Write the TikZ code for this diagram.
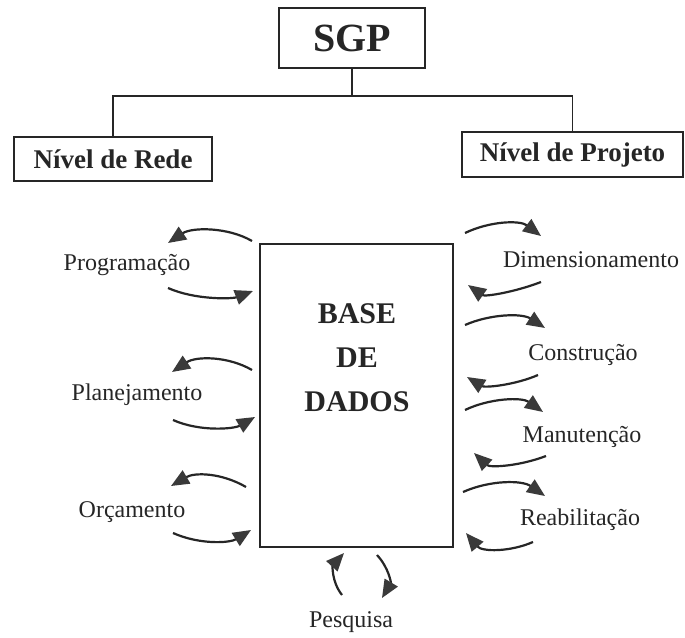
\documentclass[tikz,border=0pt]{standalone}
\usepackage{fontspec}
\setmainfont{Liberation Serif}
\usetikzlibrary{arrows.meta}
\definecolor{ink}{HTML}{262626}
\definecolor{tipc}{HTML}{3A3A3A}
\begin{document}
\begin{tikzpicture}[x=1pt,y=-1pt,
  box/.style={draw=ink, line width=1.8pt, inner sep=0pt, text=ink},
  lbl/.style={text=ink, font=\fontsize{24}{28}\selectfont, inner sep=0pt},
  head/.style={text=ink, font=\fontsize{27}{32}\selectfont\bfseries},
  flow/.style={draw=ink, line width=2.2pt, arrows={-Triangle[length=18pt 0,width=15pt 0,color=tipc]}},
  tree/.style={draw=ink, line width=1.6pt}]
\useasboundingbox (0,0) rectangle (685,637);
\fill[white] (0,0) rectangle (685,637);
% boxes
\node[box, minimum width=146pt, minimum height=60pt, font=\fontsize{40}{48}\selectfont\bfseries] (sgp) at (352,38) {SGP};
\node[box, head, minimum width=198pt, minimum height=44pt] (rede) at (113,159) {Nível de Rede};
\node[box, head, minimum width=221pt, minimum height=45pt] (proj) at (572.5,154.5) {Nível de Projeto};
\node[box, minimum width=193pt, minimum height=303pt] (base) at (356.5,395.5) {};
\node[text=ink, align=center, font=\fontsize{30}{44}\selectfont\bfseries, inner sep=0pt] (bt) at (357,358) {BASE\\DE\\DADOS};
% tree
\coordinate (j) at (352,97);
\draw[tree] (sgp.south) -- (j);
\draw[tree] (rede.north) -- ++(0,-40) -| (proj.north);
% labels
\node[lbl] (prog) at (127,265) {Programação};
\node[lbl] (plan) at (137,395) {Planejamento};
\node[lbl] (orc) at (132,512) {Orçamento};
\node[lbl] (dim) at (591,260) {Dimensionamento};
\node[lbl] (cons) at (583,355) {Construção};
\node[lbl] (man) at (582,437) {Manutenção};
\node[lbl] (reab) at (580,520) {Reabilitação};
\node[lbl] (pesq) at (351,622) {Pesquisa};
% left arrows
\coordinate (po1) at (252,241); \coordinate (po2) at (168,243);
\coordinate (pi1) at (168,288); \coordinate (pi2) at (253,291);
\coordinate (lo1) at (252,370); \coordinate (lo2) at (172,372);
\coordinate (li1) at (173,420); \coordinate (li2) at (255,417);
\coordinate (oo1) at (246,487); \coordinate (oo2) at (171,486);
\coordinate (oi1) at (173,533); \coordinate (oi2) at (251,530);
\draw[flow] (po1) .. controls (228,227) and (192,227) .. (po2);
\draw[flow] (pi1) .. controls (195,300) and (232,299) .. (pi2);
\draw[flow] (lo1) .. controls (228,356) and (196,356) .. (lo2);
\draw[flow] (li1) .. controls (200,432) and (234,429) .. (li2);
\draw[flow] (oo1) .. controls (222,473) and (195,472) .. (oo2);
\draw[flow] (oi1) .. controls (200,545) and (230,543) .. (oi2);
% right arrows
\coordinate (do1) at (465,233); \coordinate (do2) at (541,236);
\coordinate (di1) at (541,282); \coordinate (di2) at (468,285);
\coordinate (co1) at (465,325); \coordinate (co2) at (545,328);
\coordinate (ci1) at (538,375); \coordinate (ci2) at (467,377);
\coordinate (mo1) at (465,410); \coordinate (mo2) at (543,412);
\coordinate (mi1) at (546,456); \coordinate (mi2) at (474,453);
\coordinate (ro1) at (463,492); \coordinate (ro2) at (545,496);
\coordinate (ri1) at (533,542); \coordinate (ri2) at (466,533);
\draw[flow] (do1) .. controls (490,221) and (520,220) .. (do2);
\draw[flow] (di1) .. controls (515,292) and (485,297) .. (di2);
\draw[flow] (co1) .. controls (490,314) and (522,313) .. (co2);
\draw[flow] (ci1) .. controls (515,385) and (485,388) .. (ci2);
\draw[flow] (mo1) .. controls (490,398) and (522,397) .. (mo2);
\draw[flow] (mi1) .. controls (520,466) and (490,468) .. (mi2);
\draw[flow] (ro1) .. controls (490,480) and (522,480) .. (ro2);
\draw[flow] (ri1) .. controls (510,552) and (482,552) .. (ri2);
% research arrows
\coordinate (qu1) at (342,595); \coordinate (qu2) at (344,553);
\coordinate (qd1) at (377,555); \coordinate (qd2) at (382,598);
\draw[flow] (qu1) .. controls (331,581) and (333,565) .. (qu2);
\draw[flow] (qd1) .. controls (389,568) and (391,583) .. (qd2);
\end{tikzpicture}
\end{document}
